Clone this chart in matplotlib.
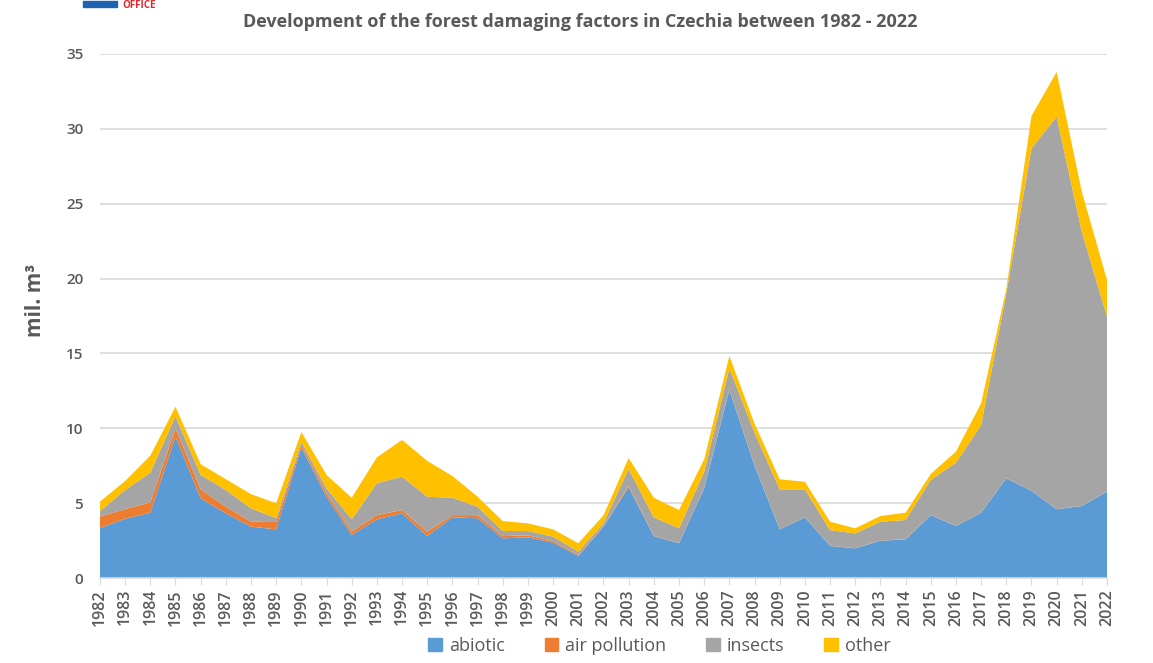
import matplotlib
matplotlib.use('Agg')
import matplotlib.pyplot as plt
import matplotlib.patches as patches

plt.rcParams['font.family'] = ['Open Sans', 'DejaVu Sans']

# values, mil. m3
years = list(range(1982, 2023))
abiotic = [3.34, 3.96, 4.36, 9.44, 5.32, 4.32, 3.43, 3.25, 8.70, 5.43,
           2.87, 3.92, 4.32, 2.80, 4.05, 3.99, 2.65, 2.72, 2.36, 1.47,
           3.43, 6.06, 2.80, 2.32, 5.99, 12.56, 7.50, 3.25, 4.05, 2.14,
           1.98, 2.49, 2.58, 4.20, 3.47, 4.36, 6.66, 5.83, 4.59, 4.81,
           5.77]
air_pollution = [0.76, 0.64, 0.69, 0.56, 0.60, 0.44, 0.33, 0.49, 0.18, 0.23,
                 0.23, 0.28, 0.22, 0.29, 0.15, 0.21, 0.15, 0.13, 0.11, 0.07,
                 0.04, 0.10, 0.02, 0.01, 0.01, 0.01, 0.01, 0.01, 0.01, 0.01,
                 0.01, 0.01, 0.01, 0.01, 0.01, 0.01, 0.01, 0.01, 0.01, 0.01,
                 0.01]
insects = [0.37, 1.28, 1.98, 0.80, 0.96, 1.12, 0.89, 0.26, 0.22, 0.33,
           0.82, 2.13, 2.23, 2.34, 1.16, 0.56, 0.34, 0.29, 0.29, 0.22,
           0.18, 1.12, 1.23, 0.99, 1.10, 1.43, 2.20, 2.66, 1.86, 1.05,
           0.99, 1.26, 1.28, 2.34, 4.22, 5.85, 12.33, 22.86, 26.22, 18.31,
           11.68]
other = [0.63, 0.60, 1.14, 0.64, 0.72, 0.72, 0.95, 0.99, 0.65, 0.89,
         1.44, 1.73, 2.45, 2.39, 1.45, 0.67, 0.66, 0.51, 0.49, 0.56,
         0.54, 0.73, 1.31, 1.22, 0.83, 0.83, 0.60, 0.67, 0.51, 0.56,
         0.34, 0.38, 0.49, 0.40, 0.74, 1.45, 0.30, 2.16, 2.98, 2.67,
         2.44]
labels = ['abiotic', 'air pollution', 'insects', 'other']
colors = ['#5B9BD5', '#ED7D31', '#A5A5A5', '#FFC000']

text_col = '#595959'
grid_col = '#D9D9D9'

fig = plt.figure(figsize=(11.53, 6.63), dpi=100)
ax = fig.add_axes([0.0867, 0.1282, 0.8734, 0.7904])

ax.stackplot(years, abiotic, air_pollution, insects, other,
             colors=colors, labels=labels, linewidth=0)

ax.set_xlim(years[0], years[-1])
ax.set_ylim(0, 35)
ax.set_yticks(range(0, 36, 5))
ax.set_xticks(years)
ax.set_xticklabels([str(y) for y in years], rotation=90)

ax.yaxis.grid(True, color=grid_col, linewidth=1.2)
ax.set_axisbelow(True)
for s in ['top', 'right', 'left']:
    ax.spines[s].set_visible(False)
ax.spines['bottom'].set_color(grid_col)
ax.spines['bottom'].set_linewidth(1.2)

ax.tick_params(axis='y', length=0, pad=12, labelsize=11, labelcolor=text_col)
ax.tick_params(axis='x', length=5, color=grid_col, pad=3, labelsize=11.5,
               labelcolor=text_col)
for t in ax.get_yticklabels() + ax.get_xticklabels():
    t.set_fontweight('semibold')

ax.set_ylabel('mil. m³', fontsize=15, fontweight='bold', color=text_col)
ax.yaxis.set_label_coords(-0.054, 0.53)

fig.text(0.503, 0.967, 'Development of the forest damaging factors in Czechia between 1982 - 2022',
         ha='center', va='center', fontsize=13, fontweight='bold', color=text_col)

# logo remnant at the top
fig.patches.append(patches.Rectangle((83 / 1153, 1 - 7 / 663), 34 / 1153, 6 / 663,
                                     transform=fig.transFigure, color='#1F62B0'))
fig.text(122 / 1153, 1 - 5 / 663, 'OFFICE', ha='left', va='center', fontsize=7,
         fontweight='bold', color='#E3262E')

handles = [patches.Patch(color=c) for c in colors]
leg = fig.legend(handles, labels, loc='center', bbox_to_anchor=(0.572, 0.026), ncol=4,
                 frameon=False, fontsize=13, handlelength=0.75, handleheight=0.75,
                 handletextpad=0.4, columnspacing=2.2)
for t in leg.get_texts():
    t.set_color(text_col)

fig.savefig('out.png', dpi=100)
